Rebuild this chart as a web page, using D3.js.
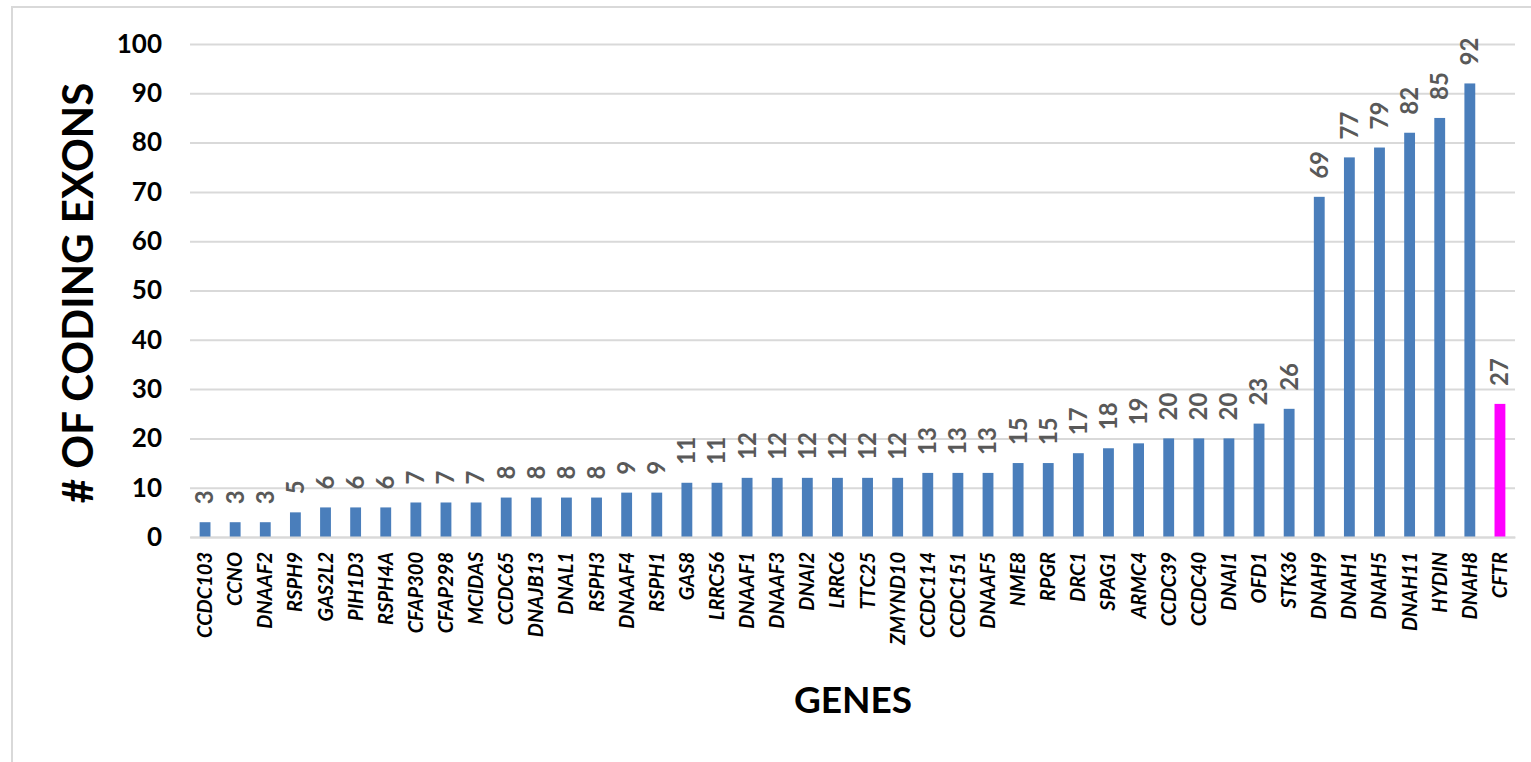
<!DOCTYPE html>
<html>
<head>
<meta charset="utf-8">
<script src="https://cdn.jsdelivr.net/npm/d3@7"></script>
<style>
  html, body { margin: 0; padding: 0; background: #fff; }
  svg { display: block; font-family: Lato, "Open Sans", sans-serif; }
</style>
</head>
<body>
<svg id="chart" width="1531" height="762"></svg>
<script>
// Number of coding exons per gene
const genes = ["CCDC103","CCNO","DNAAF2","RSPH9","GAS2L2","PIH1D3","RSPH4A","CFAP300","CFAP298","MCIDAS",
  "CCDC65","DNAJB13","DNAL1","RSPH3","DNAAF4","RSPH1","GAS8","LRRC56","DNAAF1","DNAAF3",
  "DNAI2","LRRC6","TTC25","ZMYND10","CCDC114","CCDC151","DNAAF5","NME8","RPGR","DRC1",
  "SPAG1","ARMC4","CCDC39","CCDC40","DNAI1","OFD1","STK36","DNAH9","DNAH1","DNAH5",
  "DNAH11","HYDIN","DNAH8","CFTR"];
const exons = [3,3,3,5,6,6,6,7,7,7,
  8,8,8,8,9,9,11,11,12,12,
  12,12,12,12,13,13,13,15,15,17,
  18,19,20,20,20,23,26,69,77,79,
  82,85,92,27];
const highlighted = ["CFTR"];
const yTicks = [0,10,20,30,40,50,60,70,80,90,100];

const svg = d3.select("#chart");

// outer chart frame
svg.append("rect")
  .attr("x", 12).attr("y", 7)
  .attr("width", 1540).attr("height", 780)
  .attr("fill", "none").attr("stroke", "#d9d9d9").attr("stroke-width", 2);

const plot = { left: 190, right: 1515, top: 44, bottom: 537 };

const x = d3.scaleBand().domain(genes).range([plot.left, plot.right]).paddingInner(0.64).paddingOuter(0.32);
const y = d3.scaleLinear().domain([0, 100]).range([plot.bottom, plot.top]);

// horizontal gridlines and value ticks
const yAxis = d3.axisLeft(y).tickValues(yTicks).tickSize(-(plot.right - plot.left)).tickPadding(28);
const gy = svg.append("g").attr("transform", `translate(${plot.left},0)`).call(yAxis);
gy.select(".domain").remove();
gy.selectAll(".tick line").attr("stroke", "#d9d9d9").attr("stroke-width", 2);
gy.selectAll(".tick text")
  .attr("font-size", 26).attr("font-weight", 700).attr("fill", "#000")
  .attr("font-family", "Lato, sans-serif");

// bars
svg.append("g").selectAll("rect").data(genes).join("rect")
  .attr("x", d => x(d))
  .attr("width", x.bandwidth())
  .attr("y", (d, i) => y(exons[i]))
  .attr("height", (d, i) => y(0) - y(exons[i]))
  .attr("fill", d => highlighted.includes(d) ? "#ff00ff" : "#4a7ebb");

// category axis
const xAxis = d3.axisBottom(x).tickSize(0).tickPadding(0);
const gx = svg.append("g").attr("transform", `translate(0,${plot.bottom})`).call(xAxis);
gx.select(".domain").attr("stroke", "#d9d9d9").attr("stroke-width", 2);
gx.selectAll(".tick text")
  .attr("transform", "translate(0,15) rotate(-90)")
  .attr("x", 0).attr("y", 0).attr("dy", "0.35em")
  .attr("text-anchor", "end")
  .attr("font-size", 20).attr("font-weight", 700).attr("font-style", "italic")
  .attr("fill", "#000").attr("font-family", "Lato, sans-serif");

// value labels
svg.append("g").selectAll("text").data(genes).join("text")
  .attr("transform", (d, i) => `translate(${x(d) + x.bandwidth() / 2},${y(exons[i]) - 18}) rotate(-90)`)
  .attr("dy", "0.35em")
  .attr("text-anchor", "start")
  .attr("font-size", 24).attr("font-weight", 700).attr("fill", "#595959")
  .text((d, i) => exons[i]);

// axis titles
svg.append("text")
  .attr("transform", "translate(78,293) rotate(-90)")
  .attr("text-anchor", "middle").attr("dy", "0.35em")
  .attr("font-size", 42).attr("font-weight", 700).attr("fill", "#000")
  .text("# OF CODING EXONS");

svg.append("text")
  .attr("x", 853).attr("y", 700)
  .attr("text-anchor", "middle").attr("dy", "0.35em")
  .attr("font-size", 37).attr("font-weight", 700).attr("fill", "#000")
  .text("GENES");
</script>
</body>
</html>
